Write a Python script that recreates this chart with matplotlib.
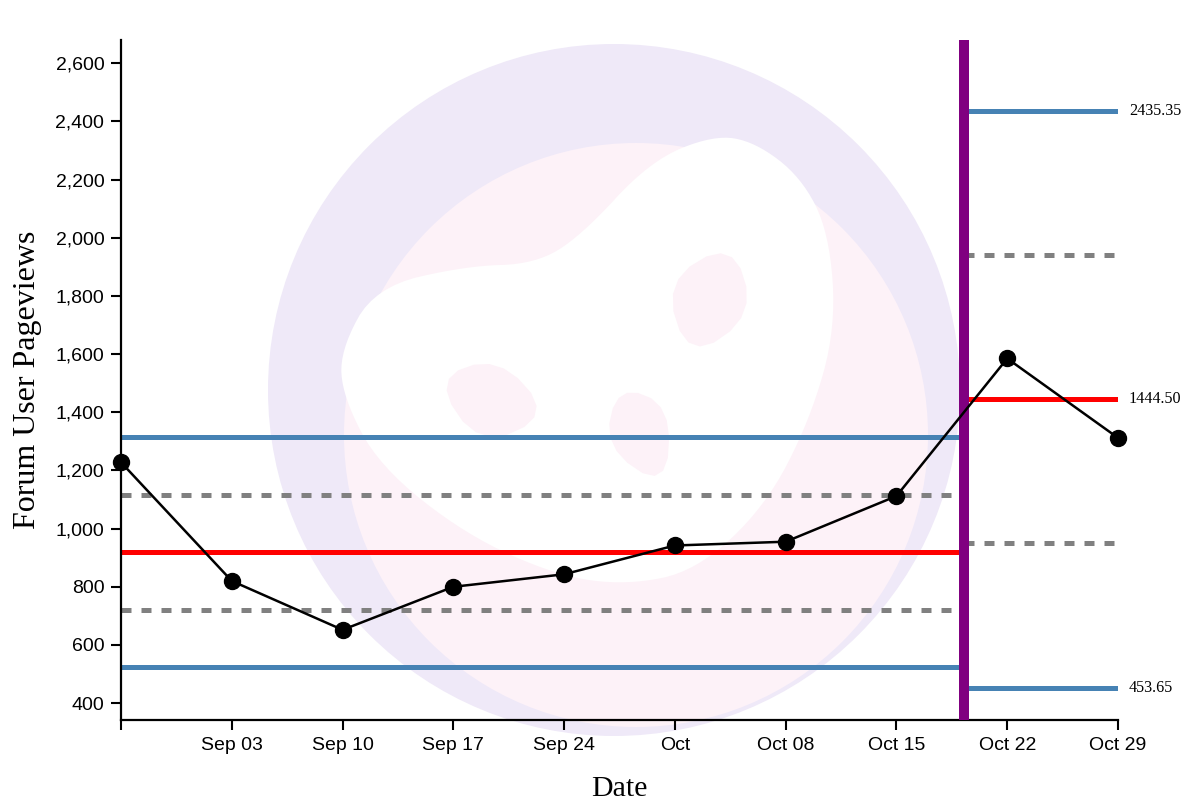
import numpy as np
import matplotlib
matplotlib.use("Agg")
import matplotlib.pyplot as plt
import matplotlib.ticker as mticker
from matplotlib.patches import Circle, Polygon
from matplotlib.transforms import blended_transform_factory

# data
dates = np.array(["2017-08-27", "2017-09-03", "2017-09-10", "2017-09-17", "2017-09-24",
                  "2017-10-01", "2017-10-08", "2017-10-15", "2017-10-22", "2017-10-29"],
                 dtype="datetime64[D]")
pageviews = [1228, 820, 652, 800, 843, 942, 955, 1112, 1585, 1312]
tick_labels = ["", "Sep 03", "Sep 10", "Sep 17", "Sep 24", "Oct", "Oct 08", "Oct 15", "Oct 22", "Oct 29"]

split_date = np.datetime64("2017-10-19T06:00")
# limits before / after the split
seg1_mean, seg1_lcl, seg1_ucl = 919.0, 524.0, 1314.0
seg1_lo_dash, seg1_hi_dash = 721.5, 1116.5
seg2_mean, seg2_lcl, seg2_ucl = 1444.50, 453.65, 2435.35
seg2_lo_dash, seg2_hi_dash = 949.08, 1939.93

x = dates.astype("datetime64[ms]").astype(object)
xs = split_date.astype("datetime64[ms]").astype(object)
x0, x1 = x[0], x[-1]

fig = plt.figure(figsize=(12, 8), dpi=100)

# faint watermark in the background (figure pixel coords)
bg = fig.add_axes([0, 0, 1, 1], zorder=0)
bg.set_xlim(0, 1200)
bg.set_ylim(800, 0)
bg.axis("off")
bg.add_patch(Circle((614, 390), 346, color="#efe9f8", lw=0))
bg.add_patch(Circle((636, 435), 292, color="#fdf2f8", lw=0))

def smooth(pts, n=3):
    # chaikin corner cutting for a closed outline
    p = np.array(pts, float)
    for _ in range(n):
        q = np.roll(p, -1, axis=0)
        p = np.stack([0.75 * p + 0.25 * q, 0.25 * p + 0.75 * q], axis=1).reshape(-1, 2)
    return p

blob = [(714, 135), (650, 161), (581, 236), (535, 264), (466, 266), (375, 287), (340, 351),
        (343, 397), (379, 466), (466, 535), (558, 576), (627, 585), (696, 571), (765, 507),
        (810, 420), (836, 328), (829, 232), (801, 177), (755, 142)]
bg.add_patch(Polygon(smooth(blob), closed=True, color="white", lw=0))
for quad in [[(434, 379), (498, 356), (551, 415), (480, 447)],
             [(618, 385), (671, 406), (666, 489), (604, 447)],
             [(664, 282), (732, 241), (755, 314), (689, 360)]]:
    bg.add_patch(Polygon(smooth(quad, 2), closed=True, color="#fdf2f8", lw=0))

ax = fig.add_axes([121 / 1200, 0.1, (1118 - 121) / 1200, 0.85], zorder=1)
ax.patch.set_alpha(0)

lw_lim = 3.6
dash = (0, (2, 2))  # scaled by linewidth -> about 10px on / 10px off

# segment 1 limits
ax.plot([x0, xs], [seg1_ucl] * 2, color="steelblue", lw=lw_lim)
ax.plot([x0, xs], [seg1_lcl] * 2, color="steelblue", lw=lw_lim)
ax.plot([x0, xs], [seg1_mean] * 2, color="red", lw=lw_lim)
ax.plot([x0, xs], [seg1_hi_dash] * 2, color="gray", lw=lw_lim, linestyle=dash)
ax.plot([x0, xs], [seg1_lo_dash] * 2, color="gray", lw=lw_lim, linestyle=dash)

# segment 2 limits
ax.plot([xs, x1], [seg2_ucl] * 2, color="steelblue", lw=lw_lim)
ax.plot([xs, x1], [seg2_lcl] * 2, color="steelblue", lw=lw_lim)
ax.plot([xs, x1], [seg2_mean] * 2, color="red", lw=lw_lim)
ax.plot([xs, x1], [seg2_hi_dash] * 2, color="gray", lw=lw_lim, linestyle=dash)
ax.plot([xs, x1], [seg2_lo_dash] * 2, color="gray", lw=lw_lim, linestyle=dash)

ax.axvline(xs, color="purple", lw=7.2, zorder=3)

ax.plot(x, pageviews, color="black", lw=1.8, marker="o", markersize=11.5, zorder=4, clip_on=False)

tr = blended_transform_factory(ax.transAxes, ax.transData)
for v in [seg2_ucl, seg2_mean, seg2_lcl]:
    ax.text(1.011, v, f"{v:.2f}", transform=tr, va="center", ha="left",
            fontsize=11.6, family="Liberation Serif", clip_on=False)

ax.set_xlim(x0, x1)
ax.set_ylim(342, 2680)
ax.set_xticks(x)
ax.set_xticklabels(tick_labels)
ax.set_yticks(np.arange(400, 2601, 200))
ax.yaxis.set_major_formatter(mticker.FuncFormatter(lambda v, p: f"{int(v):,}"))

for s in ["top", "right"]:
    ax.spines[s].set_visible(False)
for s in ["left", "bottom"]:
    ax.spines[s].set_linewidth(1.6)
ax.tick_params(length=7, width=1.5, labelsize=14, pad=5)
for lab in ax.get_xticklabels() + ax.get_yticklabels():
    lab.set_family("Liberation Sans")

ax.set_xlabel("Date", family="Liberation Serif", fontsize=21.5, labelpad=16)
ax.set_ylabel("Forum User Pageviews", family="Liberation Serif", fontsize=23, labelpad=10)

fig.savefig("out.png", dpi=100)
